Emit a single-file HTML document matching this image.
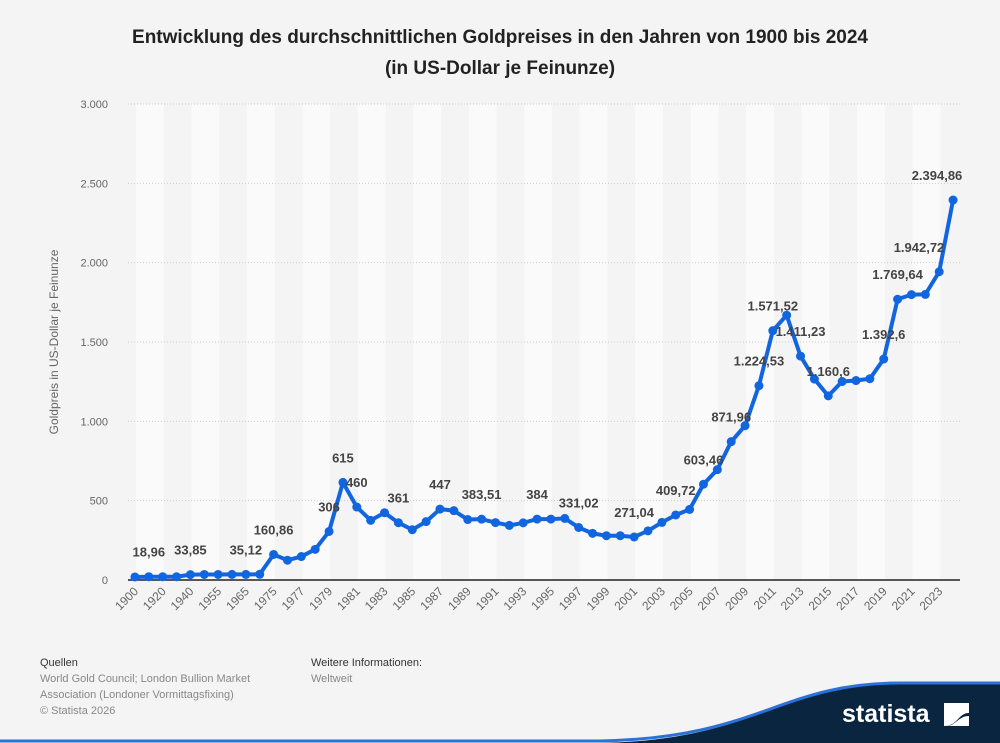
<!DOCTYPE html>
<html><head><meta charset="utf-8"><style>
body{margin:0;width:1000px;height:743px;background:#f4f4f4;font-family:"Liberation Sans",sans-serif;overflow:hidden;position:relative}
.t{position:absolute;left:0;width:1000px;text-align:center;font-weight:bold;font-size:19px;color:#222}
.f{position:absolute;font-size:11px;color:#888;line-height:16px}
.f b{color:#333;font-weight:normal}
</style></head><body>
<div class="t" style="top:22px;line-height:31px">Entwicklung des durchschnittlichen Goldpreises in den Jahren von 1900 bis 2024<br>(in US-Dollar je Feinunze)</div>
<svg id="c" width="1000" height="743" style="position:absolute;left:0;top:0"></svg>
<div class="f" style="left:40px;top:655px"><b>Quellen</b><br>World Gold Council; London Bullion Market<br>Association (Londoner Vormittagsfixing)<br>© Statista 2026</div>
<div class="f" style="left:311px;top:655px"><b>Weitere Informationen:</b><br>Weltweit</div>
<script>
const categories=[1900,1910,1920,1930,1940,1950,1955,1960,1965,1970];
for(let y=1975;y<=2024;y++)categories.push(y);
const values=[18.96,20.67,20.68,20.65,33.85,34.72,35.03,35.27,35.12,36.02,160.86,124.74,147.84,193.4,306,615,460,376,424,361,317,368,447,437,381,383.51,362,344,360,384,384,388,331.02,294,279,279,271.04,310,363,409.72,444.74,603.46,695.39,871.96,972.35,1224.53,1571.52,1668.98,1411.23,1266.4,1160.6,1250.8,1257.15,1268.49,1392.6,1769.64,1798.61,1800.09,1942.72,2394.86];
const labelIdx=[1,4,8,10,14,15,16,19,22,25,29,32,36,39,41,43,45,46,48,50,54,55,58,59];
const labelText=["18,96","33,85","35,12","160,86","306","615","460","361","447","383,51","384","331,02","271,04","409,72","603,46","871,96","1.224,53","1.571,52","1.411,23","1.160,6","1.392,6","1.769,64","1.942,72","2.394,86"];
const yTicks=[0,500,1000,1500,2000,2500,3000];
const yTickLabels=["0","500","1.000","1.500","2.000","2.500","3.000"];
const svg=document.getElementById('c'),NS='http://www.w3.org/2000/svg';
const L=128,R=960,T=104,B=580,n=categories.length,bw=(R-L)/n;
const X=i=>L+bw*(i+0.5),Y=v=>B-(v/3000)*(B-T);
function mk(t,a,p){const e=document.createElementNS(NS,t);for(const k in a)e.setAttribute(k,a[k]);(p||svg).appendChild(e);return e}
for(let x=136;x<R;x+=bw*4){const r=mk('rect',{x:x,y:T,width:Math.min(bw*2,R-x),height:B-T,fill:'#fafafa'});

}
yTicks.forEach((v,i)=>{if(v>0){const g=mk('line',{x1:L,x2:R,y1:Y(v),y2:Y(v),stroke:'#ccc','stroke-dasharray':'1,2'});

}
const t=mk('text',{x:108,y:Y(v)+4,'text-anchor':'end','font-size':11,fill:'#666'});t.textContent=yTickLabels[i];

});
const ax=mk('line',{x1:L,x2:R,y1:B,y2:B,stroke:'#222','stroke-width':1.5});


const yt=mk('text',{transform:'translate(58,342) rotate(-90)','text-anchor':'middle','font-size':12,fill:'#666'});yt.textContent='Goldpreis in US-Dollar je Feinunze';


categories.forEach((c,i)=>{if(i%2)return;const t=mk('text',{transform:`translate(${X(i)+4},${B+12}) rotate(-45)`,'text-anchor':'end','font-size':12,fill:'#666'});t.textContent=c;

});
const pl=mk('polyline',{points:values.map((v,i)=>X(i)+','+Y(v)).join(' '),fill:'none',stroke:'#1166e0','stroke-width':4,'stroke-linejoin':'round'});


values.forEach((v,i)=>{const p=mk('circle',{cx:X(i),cy:Y(v),r:4.5,fill:'#1166e0'});

});
labelIdx.forEach((i,k)=>{let x=X(i);const w=labelText[k].length*7.5;if(x+w/2>967)x=967-w/2;
if(i===58)x-=18;
const t=mk('text',{x:x,y:Y(values[i])-20,'text-anchor':'middle','font-size':13,'font-weight':'bold',fill:'#444'});t.textContent=labelText[k];

});
const band=mk('path',{d:'M600,743 C760,740 780,683 900,683 L1000,683 L1000,743 Z',fill:'#0a2540'});


const edge=mk('path',{d:'M0,741 L600,741 C760,738 780,683 900,683 L1000,683',fill:'none',stroke:'#2a72d8','stroke-width':3});


const lg=mk('text',{x:842,y:722,'font-size':25,'font-weight':'bold',fill:'#fff'});lg.textContent='statista';


const ic=mk('path',{d:'M944,703 H969 V713 C958,713 958,726 944,726 Z M969,726 H946 C956,726 958,716 969,716 Z',fill:'#fff'});


</script>
</body></html>
